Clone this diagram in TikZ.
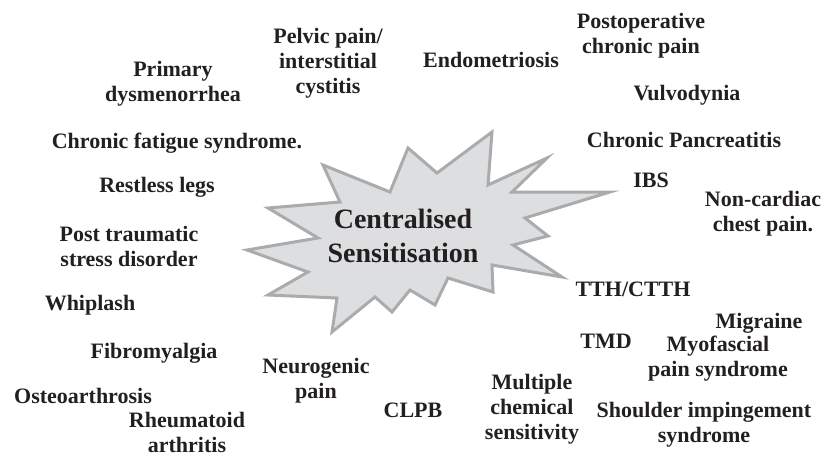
\documentclass[tikz,border=0pt]{standalone}
\usepackage{fontspec}
\setmainfont{Liberation Serif}
\definecolor{csgray}{RGB}{170,171,173}
\definecolor{csfill}{RGB}{221,222,224}
\definecolor{csink}{RGB}{35,31,32}

\begin{document}
\begin{tikzpicture}[
      x=1pt, y=-1pt,
      lbl/.style={text=csink, font=\fontsize{22}{25}\selectfont\bfseries,
                  align=center, inner sep=0pt},
      burst/.style={draw=csgray, fill=csfill, line width=3pt, miter limit=20}
    ]
    \useasboundingbox (0,0) rectangle (821,457);

    % the star
    \draw[burst] (323,165) -- (390,192) -- (408,148) -- (437,173) -- (492,132)
      -- (488,185) -- (547,158) -- (512,192) -- (610,192) -- (525,218)
      -- (548,236) -- (513,245) -- (562,277) -- (492,265) -- (493,292)
      -- (448,278) -- (435,305) -- (410,290) -- (392,312) -- (375,297)
      -- (332,332) -- (337,298) -- (268,295) -- (308,272) -- (247,250)
      -- (318,238) -- (268,208) -- (340,202) -- cycle;
    \node[lbl, font=\fontsize{28}{34}\selectfont\bfseries] (cs) at (403,236)
      {Centralised\\Sensitisation};

    % left side
    \node[lbl] (pelvic) at (328,63) {Pelvic pain/\\interstitial\\cystitis};
    \node[lbl] (dysmen) at (173,84) {Primary\\dysmenorrhea};
    \node[lbl] (fatigue) at (177,143) {Chronic fatigue syndrome.};
    \node[lbl] (legs)   at (157,187) {Restless legs};
    \node[lbl] (ptsd)   at (129,246) {Post traumatic\\stress disorder};
    \node[lbl] (whip)   at (90,305)  {Whiplash};
    \node[lbl] (fibro)  at (154,353) {Fibromyalgia};
    \node[lbl] (osteo)  at (83,396)  {Osteoarthrosis};
    \node[lbl] (rheum)  at (187,432) {Rheumatoid\\arthritis};
    \node[lbl] (neuro)  at (316,381) {Neurogenic\\pain};
    \node[lbl] (clpb)   at (413,410) {CLPB};
    \node[lbl] (mcs)    at (532,409) {Multiple\\chemical\\sensitivity};

    % right side
    \node[lbl] (endo)   at (491,60)  {Endometriosis};
    \node[lbl] (postop) at (641,36)  {Postoperative\\chronic pain};
    \node[lbl] (vulvo)  at (687,95)  {Vulvodynia};
    \node[lbl] (pancr)  at (684,140) {Chronic Pancreatitis};
    \node[lbl] (ibs)    at (651,180) {IBS};
    \node[lbl] (ncard)  at (763,214) {Non-cardiac\\chest pain.};
    \node[lbl] (tth)    at (633,289) {TTH/CTTH};
    \node[lbl] (migr)   at (759,323) {Migraine};
    \node[lbl] (tmd)    at (606,341) {TMD};
    \node[lbl] (myof)   at (718,359) {Myofascial\\pain syndrome};
    \node[lbl] (should) at (704,425) {Shoulder impingement\\syndrome};
  \end{tikzpicture}
\end{document}
